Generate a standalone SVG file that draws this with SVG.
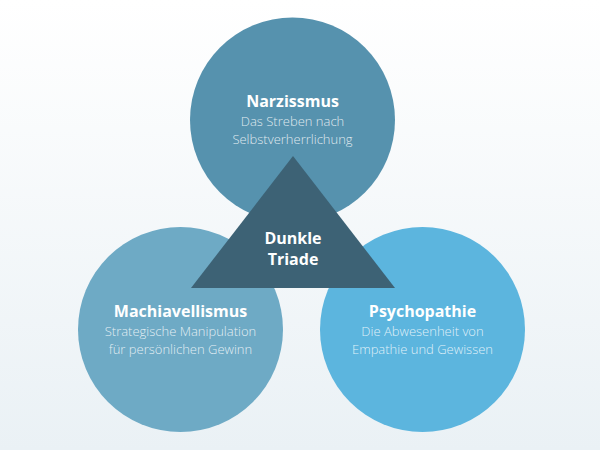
<svg xmlns="http://www.w3.org/2000/svg" width="600" height="450" viewBox="0 0 600 450">
  <defs>
    <linearGradient id="bg" x1="0" y1="0" x2="0" y2="1">
      <stop offset="0" stop-color="#ffffff"/>
      <stop offset="1" stop-color="#eaf1f5"/>
    </linearGradient>
    <style>
      .title { font-family: "Open Sans", "Noto Sans", sans-serif; font-weight: 700; font-size: 16px; fill: #ffffff; text-anchor: middle; }
      .sub { font-family: "Open Sans", "Noto Sans", sans-serif; font-weight: 300; font-size: 13px; fill: #ffffff; fill-opacity: 0.82; text-anchor: middle; }
    </style>
  </defs>
  <rect x="0" y="0" width="600" height="450" fill="url(#bg)"/>
  <g id="narzissmus">
    <circle cx="292.5" cy="120" r="102.5" fill="#5692ae"/>
    <text class="title" x="292.5" y="107">Narzissmus</text>
    <text class="sub" x="292.5" y="126">Das Streben nach</text>
    <text class="sub" x="292.5" y="144">Selbstverherrlichung</text>
  </g>
  <g id="machiavellismus">
    <circle cx="180.5" cy="329.5" r="102.5" fill="#6eaac5"/>
    <text class="title" x="180.5" y="317">Machiavellismus</text>
    <text class="sub" x="180.5" y="336">Strategische Manipulation</text>
    <text class="sub" x="180.5" y="354">für persönlichen Gewinn</text>
  </g>
  <g id="psychopathie">
    <circle cx="422.5" cy="329.5" r="102.5" fill="#5cb5de"/>
    <text class="title" x="422.5" y="317">Psychopathie</text>
    <text class="sub" x="422.5" y="336">Die Abwesenheit von</text>
    <text class="sub" x="422.5" y="354">Empathie und Gewissen</text>
  </g>
  <g id="dunkle-triade">
    <polygon points="293,156 191,288 395,288" fill="#3d6275"/>
    <text class="title" x="293" y="244">Dunkle</text>
    <text class="title" x="293" y="265">Triade</text>
  </g>
  <g id="connectors"/>
</svg>
